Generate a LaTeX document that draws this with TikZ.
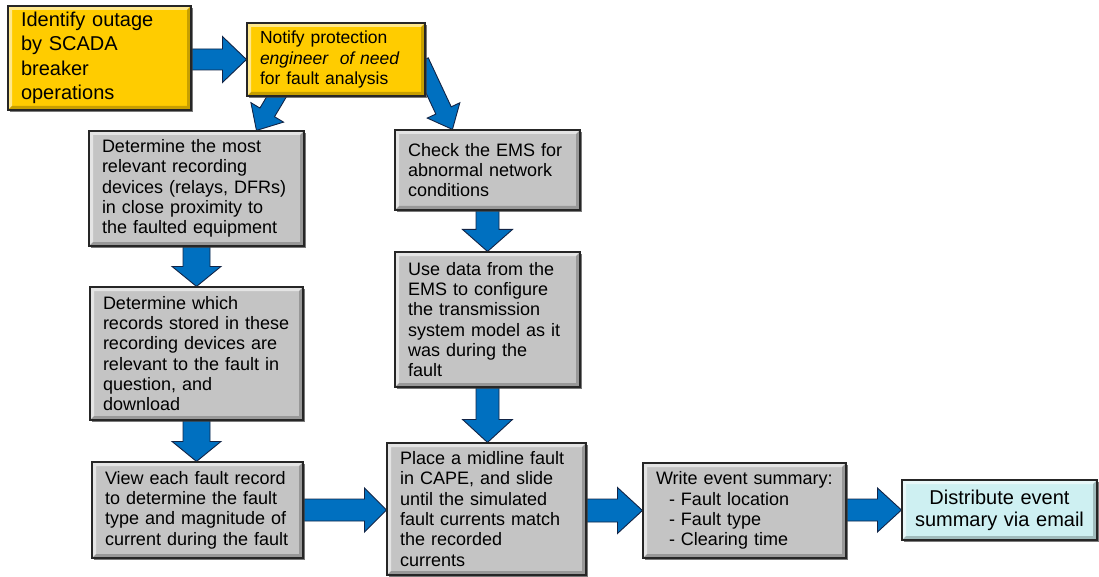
\documentclass[tikz,border=0pt]{standalone}
\usepackage{fontspec}
\setmainfont{Liberation Sans}
\usetikzlibrary{calc,shadows,backgrounds}
\definecolor{boxyellow}{RGB}{255,204,0}
\definecolor{boxgray}{RGB}{196,196,196}
\definecolor{boxcyan}{RGB}{206,240,242}
\definecolor{arrowblue}{RGB}{0,112,192}
\definecolor{arrowline}{RGB}{18,36,70}
\tikzset{
  bevel/.style={path picture={
    \fill[white,opacity=.55] (path picture bounding box.north west) -- (path picture bounding box.north east)
      -- ++(-4pt,-4pt) -- ($(path picture bounding box.north west)+(4pt,-4pt)$)
      -- ($(path picture bounding box.south west)+(4pt,4pt)$) -- (path picture bounding box.south west) -- cycle;
    \fill[black,opacity=.22] (path picture bounding box.south east) -- (path picture bounding box.south west)
      -- ++(4pt,4pt) -- ($(path picture bounding box.south east)+(-4pt,4pt)$)
      -- ($(path picture bounding box.north east)+(-4pt,-4pt)$) -- (path picture bounding box.north east) -- cycle;
  }},
  flowbox/.style={draw=black!85, line width=1.1pt, bevel, inner xsep=13pt, inner ysep=3pt,
    align=left, font=\fontsize{18}{20.3}\selectfont,
    drop shadow={shadow xshift=2pt, shadow yshift=-2pt, opacity=.7, fill=black!75}},
  ybox/.style={flowbox, fill=boxyellow},
  gbox/.style={flowbox, fill=boxgray},
  cbox/.style={flowbox, fill=boxcyan, align=center},
  blk/.style={fill=arrowblue, draw=arrowline, line width=0.9pt, line join=miter},
}
\newcommand\blockarr[5]{%
  \path[blk] let \p1=(#4), \p2=(#5), \n1={atan2(\y2-\y1,\x2-\x1)}, \n2={veclen(\x2-\x1,\y2-\y1)} in
  {[shift={(\p1)}, rotate=\n1] (0,#1) -- ({\n2-#3},#1) -- ({\n2-#3},#2) -- (\n2,0)
   -- ({\n2-#3},-#2) -- ({\n2-#3},-#1) -- (0,-#1) -- cycle};
}
\begin{document}
\begin{tikzpicture}[x=1pt,y=-1pt]
\useasboundingbox (0,0) rectangle (1099,577);

\node[ybox, minimum width=183pt, minimum height=104pt, text width=157pt,
      font=\fontsize{20}{24.5}\selectfont] (b1) at (99.5,58)
  {Identify outage\\by SCADA\\breaker\\operations};
\node[ybox, minimum width=178pt, minimum height=73pt, text width=152pt,
      font=\fontsize{17.5}{20.5}\selectfont] (b2) at (336,59.5)
  {Notify protection\\\textit{engineer\ \ of need}\\for fault analysis};

\node[gbox, minimum width=215pt, minimum height=115pt, text width=189pt] (b3) at (196.5,188.5)
  {Determine the most\\relevant recording\\devices (relays, DFRs)\\in close proximity to\\the faulted equipment};
\node[gbox, minimum width=213pt, minimum height=133pt, text width=187pt] (b4) at (196.5,353.5)
  {Determine which\\records stored in these\\recording devices are\\relevant to the fault in\\question, and\\download};
\node[gbox, minimum width=211pt, minimum height=96pt, text width=185pt] (b5) at (197.5,510)
  {View each fault record\\to determine the fault\\type and magnitude of\\current during the fault};

\node[gbox, minimum width=185pt, minimum height=80pt, text width=159pt] (b6) at (487.5,170)
  {Check the EMS for\\abnormal network\\conditions};
\node[gbox, minimum width=185pt, minimum height=135pt, text width=159pt] (b7) at (487.5,319.5)
  {Use data from the\\EMS to configure\\the transmission\\system model as it\\was during the\\fault};
\node[gbox, minimum width=199pt, minimum height=132pt, text width=173pt] (b8) at (486.5,509)
  {Place a midline fault\\in CAPE, and slide\\until the simulated\\fault currents match\\the recorded\\currents};

\node[gbox, minimum width=203pt, minimum height=95pt, text width=177pt] (b9) at (744.5,510.5)
  {Write event summary:\\\hspace*{13pt}- Fault location\\\hspace*{13pt}- Fault type\\\hspace*{13pt}- Clearing time};
\node[cbox, minimum width=195pt, minimum height=60pt, text width=169pt,
      font=\fontsize{20}{22}\selectfont] (b10) at (999.5,510)
  {Distribute event\\summary via email};

\coordinate (t2) at ($(b2.south west)+(35pt,8pt)$);
\coordinate (h2) at ($(b3.north west)+(168pt,0pt)$);
\coordinate (t3) at ($(b2.north east)+(-5pt,-39pt)$);
\coordinate (h3) at ($(b6.north west)+(58pt,0pt)$);

\begin{scope}[on background layer]
  \blockarr{10.5}{23}{24}{b1.east |- b2.west}{b2.west}
  \blockarr{8.5}{19}{21}{t2}{h2}
  \blockarr{8.5}{18}{21}{t3}{h3}
  \blockarr{13.5}{24.5}{20}{b3.south}{b4.north}
  \blockarr{13.5}{24.5}{20}{b4.south}{b4.south |- b5.north}
  \blockarr{11.5}{25}{22}{b6.south}{b7.north}
  \blockarr{11.5}{25}{23}{b7.south}{b7.south |- b8.north}
  \blockarr{11}{22}{22}{b5.east}{b5.east -| b8.west}
  \blockarr{11.5}{23}{25}{b8.east |- b9.west}{b9.west}
  \blockarr{11}{22}{24}{b9.east |- b10.west}{b10.west}
\end{scope}
\end{tikzpicture}
\end{document}
